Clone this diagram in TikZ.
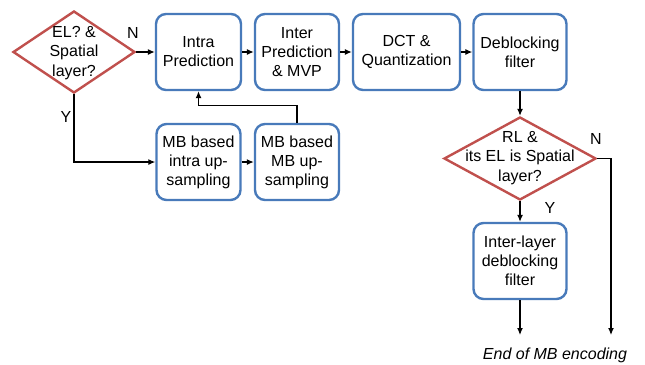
\documentclass[tikz,border=0pt]{standalone}
\usepackage{fontspec}
\setmainfont{Liberation Sans}
\usetikzlibrary{shapes.geometric,arrows.meta}
\definecolor{boxblue}{RGB}{72,122,186}
\definecolor{decred}{RGB}{192,80,77}
\tikzset{
  procbox/.style={draw=boxblue, line width=2.4pt, rounded corners=10pt, fill=white,
    minimum height=76pt, inner sep=0pt, align=center,
    font=\fontsize{16}{19}\selectfont},
  decision/.style={diamond, draw=decred, line width=2.4pt, inner sep=0pt, fill=white},
  dtext/.style={align=center, inner sep=0pt, font=\fontsize{16}{19.5}\selectfont},
  lbl/.style={inner sep=0pt, font=\fontsize{16}{19}\selectfont},
  flow/.style={line width=1.2pt, -{Latex[length=7pt,width=6pt]}},
}
\begin{document}
\begin{tikzpicture}[x=1pt,y=-1pt]
\useasboundingbox (0,0) rectangle (645,364);

% decision nodes
\node[decision, minimum width=122pt, minimum height=82pt] (d1) at (74,52) {};
\node[dtext] (d1t) at (74,53) {EL? \&\\Spatial\\layer?};
\node[decision, minimum width=152pt, minimum height=83pt] (d2) at (520,158.5) {};
\node[dtext] (d2t) at (520,158) {RL \&\\its EL is Spatial\\layer?};

% processing blocks
\node[procbox, minimum width=85pt]  (intra) at (198.5,52) {Intra\\Prediction};
\node[procbox, minimum width=84pt]  (inter) at (297,52)   {Inter\\Prediction\\\& MVP};
\node[procbox, minimum width=107pt] (dct)   at (406.5,52) {DCT \&\\Quantization};
\node[procbox, minimum width=93pt]  (deb)   at (520,52)   {Deblocking\\filter};
\node[procbox, minimum width=84pt]  (up1)   at (198.5,162) {MB based\\intra up-\\sampling};
\node[procbox, minimum width=84pt]  (up2)   at (297,162)   {MB based\\MB up-\\sampling};
\node[procbox, minimum width=93pt]  (ilf)   at (520,261)   {Inter-layer\\deblocking\\filter};

% loose ends
\coordinate (endA) at (520,335);
\coordinate (endB) at (611,335);

% connectors
\draw[flow] (d1.east) -- (intra.west);
\draw[flow] (intra.east) -- (inter.west);
\draw[flow] (inter.east) -- (dct.west);
\draw[flow] (dct.east) -- (deb.west);
\draw[flow] (deb.south) -- (d2.north);
\draw[flow] (d1.south) |- (up1.west);
\draw[flow] (up1.east) -- (up2.west);
\draw[flow] (up2.north) -- ++(0,-17) -| (intra.south);
\draw[flow] (d2.south) -- (ilf.north);
\draw[flow] (ilf.south) -- (endA);
\draw[flow] (d2.east) -| (endB);

% branch labels
\node[lbl] (n1) at (133,33) {N};
\node[lbl] (y1) at (66,117) {Y};
\node[lbl] (n2) at (596,139) {N};
\node[lbl] (y2) at (550,208) {Y};

\node[lbl, font=\fontsize{16}{19}\selectfont\itshape] (fin) at (555,355) {End of MB encoding};
\end{tikzpicture}
\end{document}
